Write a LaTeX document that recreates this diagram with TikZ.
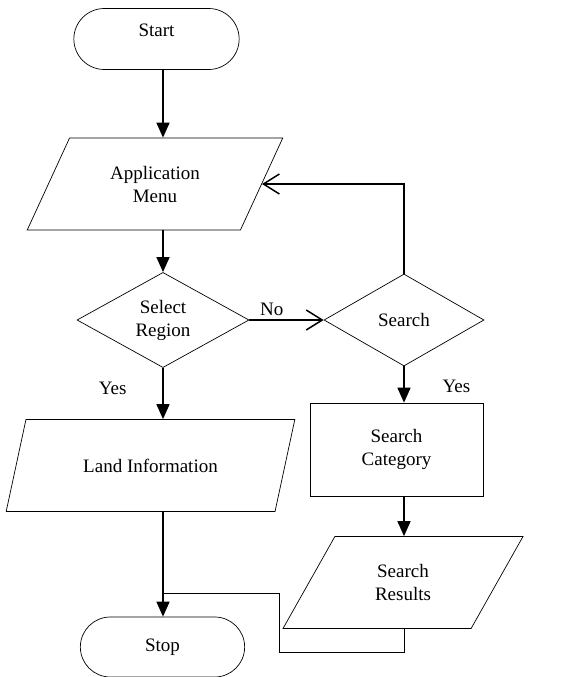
\documentclass[tikz,border=0pt]{standalone}
\usepackage{fontspec}
\setmainfont{Liberation Serif}
\usetikzlibrary{shapes.geometric,shapes.misc,arrows.meta,positioning}

\begin{document}
\begin{tikzpicture}[
    x=1pt, y=-1pt,
    font=\fontsize{19}{23}\selectfont,
    terminal/.style={draw, rounded rectangle, minimum width=172pt, minimum height=61pt, line width=0.7pt},
    io/.style={draw, trapezium, trapezium left angle=61, trapezium right angle=119, trapezium stretches=true, minimum height=92pt, align=center, line width=0.7pt},
    decision/.style={draw, diamond, inner sep=0pt, minimum height=92pt, align=center, line width=0.7pt},
    process/.style={draw, rectangle, minimum width=173pt, minimum height=93pt, align=center, line width=0.7pt},
    flow/.style={-{Triangle[length=15pt, width=13pt]}, line width=1.5pt},
    back/.style={-{Straight Barb[length=16pt, width=20pt]}, line width=1.5pt},
    link/.style={line width=0.7pt}
]
\useasboundingbox (0,0) rectangle (571,677);

\node[terminal, text depth=18pt] (start) at (156.5,39) {Start};
\node[io, minimum width=256pt] (appmenu) at (155,184) {Application\\Menu};
\node[decision, minimum width=172pt] (select) at (163,320) {Select\\Region};
\node[decision, minimum width=160pt] (search) at (404,320) {Search};
\node[io, minimum width=289pt] (landinfo) at (150.5,465.5) {Land Information};
\node[process] (category) at (396.5,449.5) {Search\\Category};
\node[io, minimum width=240pt] (results) at (403,582.5) {Search\\Results};
\node[terminal, minimum width=171pt, minimum height=60pt] (stop) at (162.5,647) {Stop};

\foreach \i/\j in {start/appmenu, appmenu/select, select/landinfo, landinfo/stop}
  \draw[flow] (\i.south -| select) -- (\j.north -| select);
\foreach \i/\j in {search/category, category/results}
  \draw[flow] (\i.south -| search) -- (\j.north -| search);

\draw[back] (select.east) -- node[above, pos=0.3] {No} (search.west);
\draw[back] (search.north) |- (appmenu.east);

\node[left=33pt of select.south, yshift=-20pt] (yesleft) {Yes};
\node[right=35pt of search.south, yshift=-20pt] (yesright) {Yes};

% return line from the search results
\coordinate (bend) at (279,652);
\coordinate (merge) at (163,593);
\draw[link] (results.south -| search) |- (bend) |- (merge);
\end{tikzpicture}
\end{document}
